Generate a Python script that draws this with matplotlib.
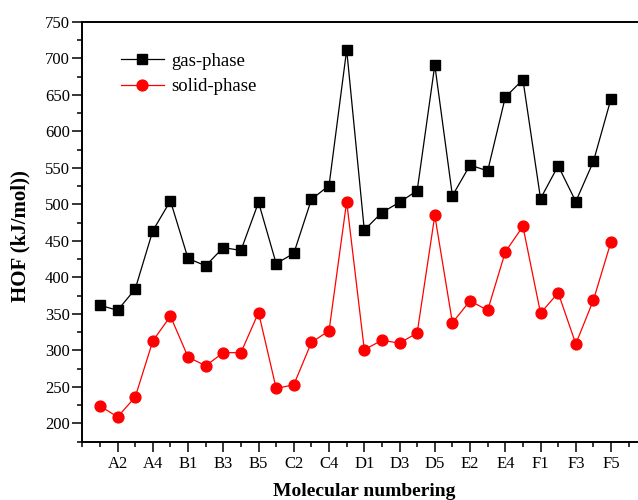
import numpy as np
import matplotlib
matplotlib.use('Agg')
import matplotlib.pyplot as plt
from matplotlib.ticker import MultipleLocator

###############################################################################
# DATA
###############################################################################

GROUPS = ['A', 'B', 'C', 'D', 'E', 'F']
MOLECULES = [g + str(i) for g in GROUPS for i in range(1, 6)]

GAS_PHASE = [362, 355, 384, 464, 505,
             426, 416, 441, 437, 503,
             419, 433, 507, 526, 712,
             465, 489, 503, 519, 691,
             512, 554, 546, 647, 671,
             508, 553, 504, 559, 645]

SOLID_PHASE = [224, 209, 236, 313, 347,
               291, 279, 297, 297, 352,
               248, 253, 311, 327, 504,
               301, 314, 310, 324, 485,
               338, 368, 355, 435, 470,
               351, 379, 309, 369, 449]

###############################################################################
# PLOT
###############################################################################

plt.rcParams['font.family'] = 'Liberation Serif'

fig = plt.figure(figsize=(6.38, 5.0), dpi=100)
# axes runs past the right edge of the figure, as in the original
ax = fig.add_axes([0.129, 0.1166, 0.884, 0.8394])

x = np.arange(1, len(MOLECULES) + 1)
ax.plot(x, GAS_PHASE, color='black', lw=0.9, marker='s', ms=6.8,
        label='gas-phase')
ax.plot(x, SOLID_PHASE, color='red', lw=0.9, marker='o', ms=7.8,
        label='solid-phase')

ax.set_xlim(0, 32)
ax.set_ylim(175, 750)

ax.set_xticks(x[1::2])
ax.set_xticklabels(MOLECULES[1::2])
ax.xaxis.set_minor_locator(MultipleLocator(1))
ax.yaxis.set_minor_locator(MultipleLocator(25))
ax.set_yticks(np.arange(200, 751, 50))

ax.tick_params(which='major', direction='out', length=7, width=1.1,
               labelsize=12, pad=2)
ax.tick_params(which='minor', direction='out', length=3.5, width=1.1)
ax.tick_params(axis='x', which='major', pad=3)
ax.tick_params(top=False, right=False, which='both')

for spine in ax.spines.values():
    spine.set_linewidth(1.4)

ax.set_xlabel('Molecular numbering', fontsize=14, fontweight='bold')
ax.set_ylabel('HOF (kJ/mol))', fontsize=15, fontweight='bold')
ax.xaxis.set_label_coords(0.4995, -0.098)
ax.yaxis.set_label_coords(-0.091, 0.49)

ax.legend(loc='upper left', bbox_to_anchor=(0.055, 0.945), frameon=False,
          fontsize=13.5, handlelength=2.3, handletextpad=0.4,
          labelspacing=0.45, borderaxespad=0)

fig.savefig('out.png', dpi=100)
